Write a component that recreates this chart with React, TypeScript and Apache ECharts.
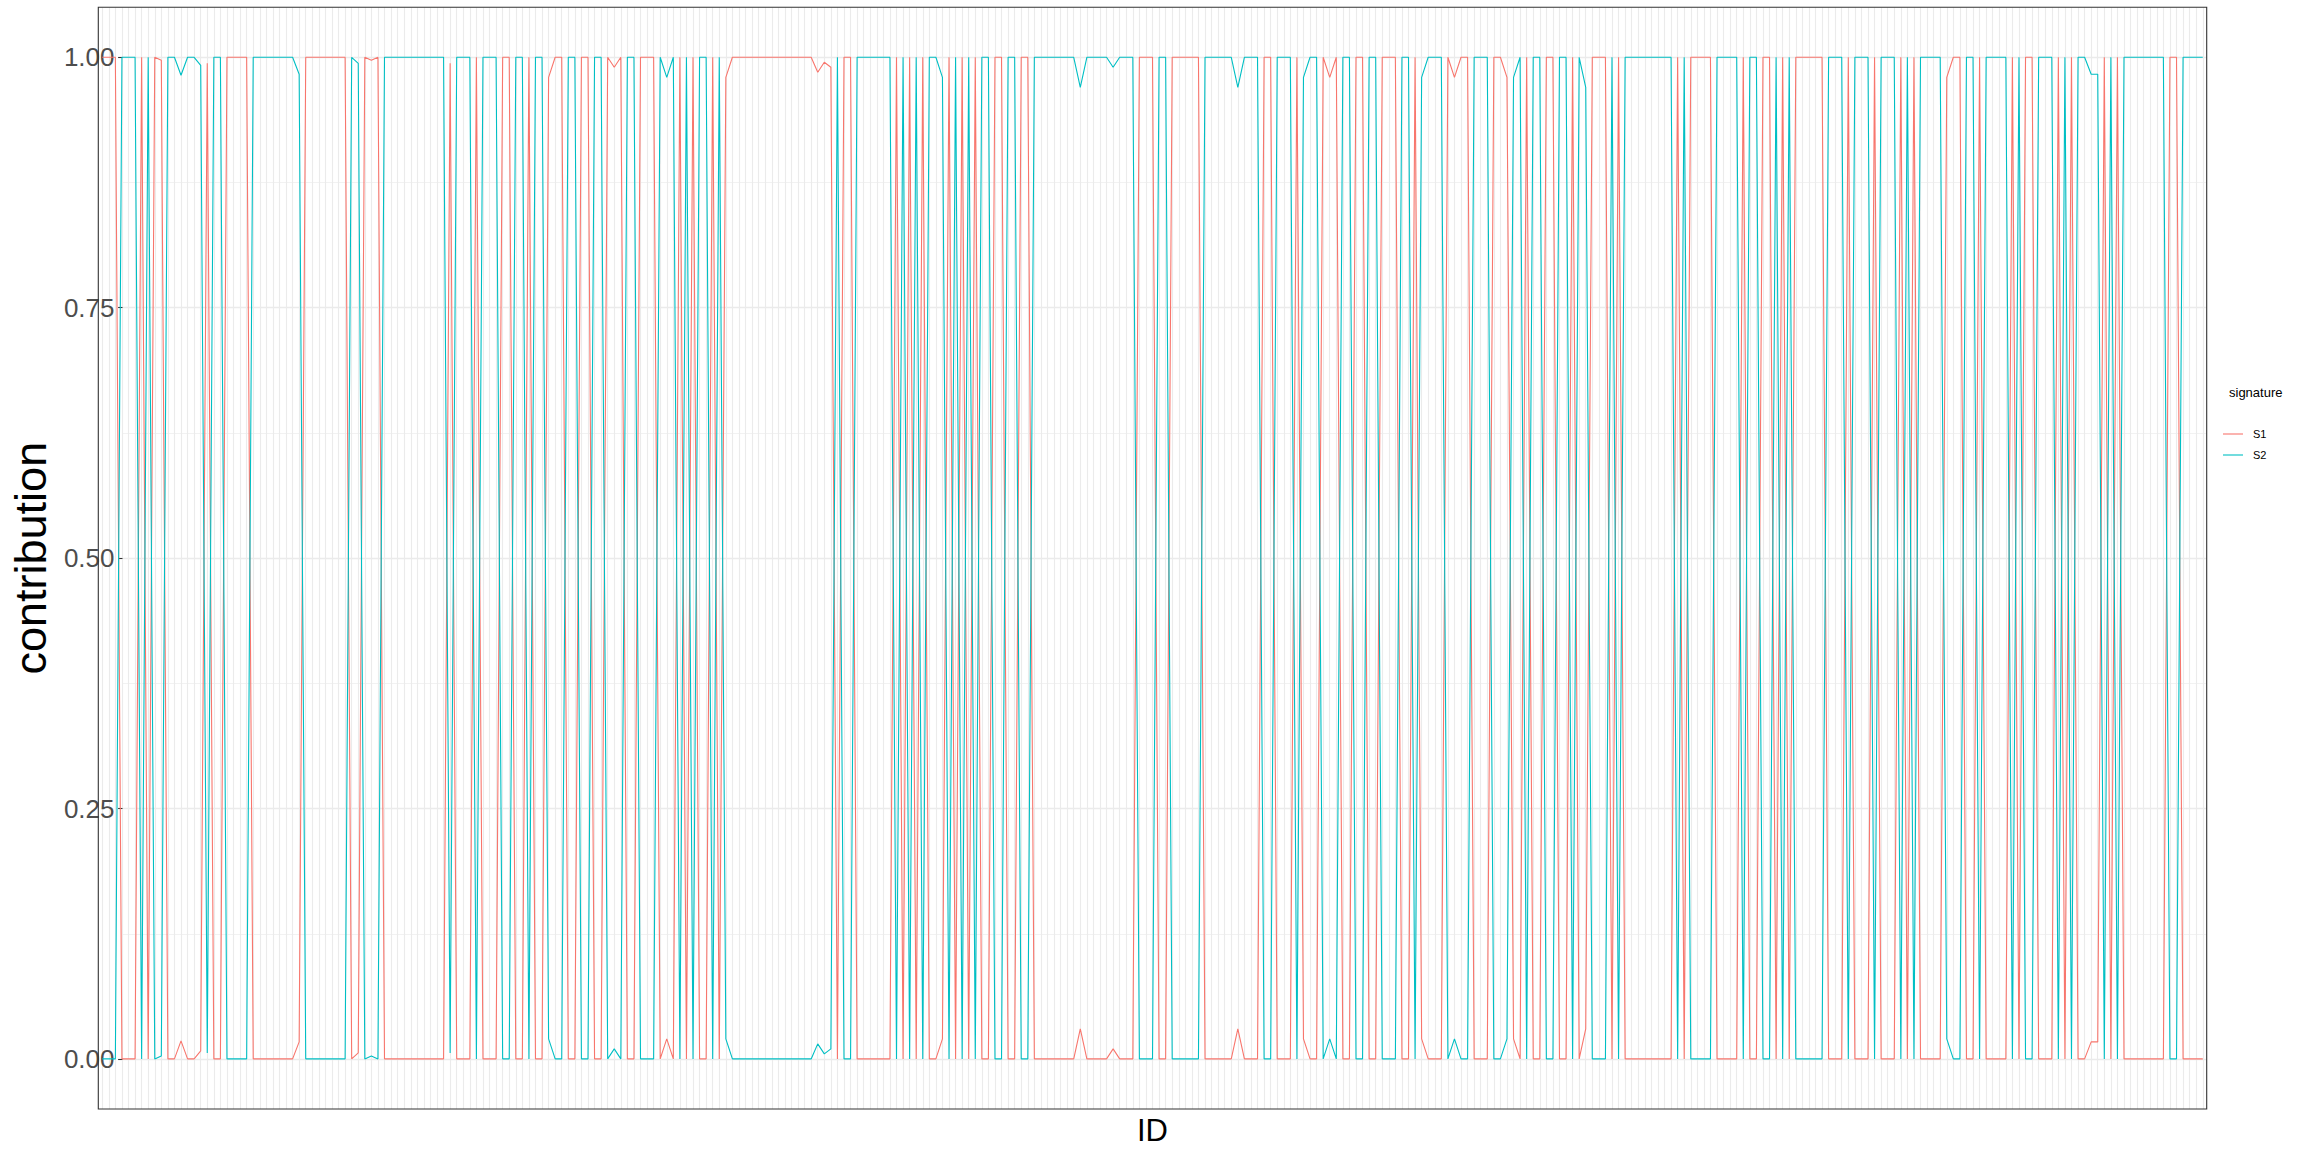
import React, { useEffect, useRef } from "react";
import * as echarts from "echarts";

// ---- data ----
const N_IDS = 321;
const ids: string[] = Array.from({ length: N_IDS }, (_, i) => String(i + 1));

const s1: number[] = [
  1, 1, 1, 0, 0, 0, 1, 0, 1, 0.997,
  0, 0, 0.018, 0, 0, 0.008, 0.994, 0, 0, 1,
  1, 1, 1, 0, 0, 0, 0, 0, 0, 0,
  0.017, 1, 1, 1, 1, 1, 1, 1, 0, 0.006,
  1, 0.997, 1, 0, 0, 0, 0, 0, 0, 0,
  0, 0, 0, 0.994, 0, 0, 0, 1, 0, 0,
  0, 1, 1, 0, 0, 1, 0, 0, 0.98, 1,
  1, 0, 0, 1, 1, 0, 0, 1, 0.99, 1,
  0, 0, 1, 1, 1, 0, 0.02, 0, 1, 0,
  1, 0, 0, 1, 0, 0.98, 1, 1, 1, 1,
  1, 1, 1, 1, 1, 1, 1, 1, 1, 0.985,
  0.995, 0.99, 0, 1, 1, 0, 0, 0, 0, 0,
  0, 1, 0, 1, 0, 1, 0, 0, 0.02, 1,
  0, 1, 0, 1, 0, 0, 1, 1, 0, 0,
  1, 1, 0, 0, 0, 0, 0, 0, 0, 0.03,
  0, 0, 0, 0, 0.01, 0, 0, 0, 1, 1,
  1, 0, 0, 1, 1, 1, 1, 1, 0, 0,
  0, 0, 0, 0.03, 0, 0, 0, 1, 1, 0,
  0, 0, 1, 0.02, 0, 0, 1, 0.98, 1, 0,
  0, 1, 1, 0, 0, 1, 1, 1, 0, 0,
  1, 0.02, 0, 0, 0, 1, 0.98, 1, 1, 0,
  0, 0, 1, 1, 0.98, 0.02, 0, 1, 0, 0,
  1, 1, 0, 0, 1, 0, 0.03, 1, 1, 1,
  0, 1, 0, 0, 0, 0, 0, 0, 0, 0,
  1, 0, 1, 1, 1, 1, 0, 0, 0, 0,
  1, 0, 0, 1, 1, 0, 1, 0, 1, 1,
  1, 1, 1, 0, 0, 0, 1, 0, 0, 0,
  1, 0, 0, 0, 1, 0, 1, 0, 0, 0,
  0, 0.98, 1, 1, 0, 0, 1, 0, 0, 0,
  0, 1, 0, 1, 1, 0, 0, 0, 1, 0,
  1, 0, 0, 0.017, 0.017, 1, 0, 1, 0, 0,
  0, 0, 0, 0, 0, 1, 1, 0, 0, 0,
  0,
];

const s2: number[] = [
  0, 0, 0, 1, 1, 1, 0, 1, 0, 0.003,
  1, 1, 0.982, 1, 1, 0.992, 0.006, 1, 1, 0,
  0, 0, 0, 1, 1, 1, 1, 1, 1, 1,
  0.983, 0, 0, 0, 0, 0, 0, 0, 1, 0.994,
  0, 0.003, 0, 1, 1, 1, 1, 1, 1, 1,
  1, 1, 1, 0.006, 1, 1, 1, 0, 1, 1,
  1, 0, 0, 1, 1, 0, 1, 1, 0.02, 0,
  0, 1, 1, 0, 0, 1, 1, 0, 0.01, 0,
  1, 1, 0, 0, 0, 1, 0.98, 1, 0, 1,
  0, 1, 1, 0, 1, 0.02, 0, 0, 0, 0,
  0, 0, 0, 0, 0, 0, 0, 0, 0, 0.015,
  0.005, 0.01, 1, 0, 0, 1, 1, 1, 1, 1,
  1, 0, 1, 0, 1, 0, 1, 1, 0.98, 0,
  1, 0, 1, 0, 1, 1, 0, 0, 1, 1,
  0, 0, 1, 1, 1, 1, 1, 1, 1, 0.97,
  1, 1, 1, 1, 0.99, 1, 1, 1, 0, 0,
  0, 1, 1, 0, 0, 0, 0, 0, 1, 1,
  1, 1, 1, 0.97, 1, 1, 1, 0, 0, 1,
  1, 1, 0, 0.98, 1, 1, 0, 0.02, 0, 1,
  1, 0, 0, 1, 1, 0, 0, 0, 1, 1,
  0, 0.98, 1, 1, 1, 0, 0.02, 0, 0, 1,
  1, 1, 0, 0, 0.02, 0.98, 1, 0, 1, 1,
  0, 0, 1, 1, 0, 1, 0.97, 0, 0, 0,
  1, 0, 1, 1, 1, 1, 1, 1, 1, 1,
  0, 1, 0, 0, 0, 0, 1, 1, 1, 1,
  0, 1, 1, 0, 0, 1, 0, 1, 0, 0,
  0, 0, 0, 1, 1, 1, 0, 1, 1, 1,
  0, 1, 1, 1, 0, 1, 0, 1, 1, 1,
  1, 0.02, 0, 0, 1, 1, 0, 1, 1, 1,
  1, 0, 1, 0, 0, 1, 1, 1, 0, 1,
  0, 1, 1, 0.983, 0.983, 0, 1, 0, 1, 1,
  1, 1, 1, 1, 1, 0, 0, 1, 1, 1,
  1,
];

const seriesNames = ["S1", "S2"];
const legendTitle = "signature";

const RED = "#F8766D";
const CYAN = "#00BFC4";
const FONT = "'Liberation Sans', Arial, sans-serif";

export default function App() {
  const ref = useRef<HTMLDivElement>(null);
  useEffect(() => {
    if (!ref.current) return;
    const chart = echarts.init(ref.current, undefined, { renderer: "svg" });
    const W = 2304;
    const H = 1152;
    const panel = { x0: 98.3, x1: 2206.7, y0: 7.2, y1: 1109 };
    const step = (panel.x1 - panel.x0) / (N_IDS - 1 + 1.2);
    const catL = panel.x0 + 0.6 * step;
    const catR = panel.x1 - 0.6 * step;
    const yTop1 = 57.3;
    const yBot0 = 1059;

    chart.setOption({
      animation: false,
      backgroundColor: "#ffffff",
      textStyle: { fontFamily: FONT },
      grid: [
        {
          left: panel.x0,
          right: W - panel.x1,
          top: yTop1,
          bottom: H - yBot0,
          containLabel: false,
        },
        {
          left: catL,
          right: W - catR,
          top: panel.y0,
          bottom: H - panel.y1,
          containLabel: false,
        },
      ],
      xAxis: [
        { gridIndex: 0, type: "value", show: false, min: 0, max: 1 },
        {
          gridIndex: 1,
          type: "category",
          data: ids,
          boundaryGap: false,
          name: "ID",
          nameLocation: "middle",
          nameGap: 6,
          nameTextStyle: {
            fontSize: 31,
            color: "#000000",
            fontFamily: FONT,
            verticalAlign: "top",
          },
          axisLine: { show: false },
          axisTick: { show: false },
          axisLabel: { show: false },
          splitLine: {
            show: true,
            interval: 0,
            lineStyle: { color: "#EBEBEB", width: 1.1 },
          },
        },
      ],
      yAxis: [
        {
          gridIndex: 0,
          type: "value",
          min: 0,
          max: 1,
          interval: 0.25,
          name: "contribution",
          nameLocation: "middle",
          nameGap: 53,
          nameRotate: 90,
          nameTextStyle: { fontSize: 45, color: "#000000", fontFamily: FONT },
          axisLine: { show: false },
          axisTick: {
            show: true,
            length: 4.4,
            lineStyle: { color: "#333333", width: 1.1 },
          },
          axisLabel: {
            show: true,
            margin: 8,
            fontSize: 26,
            color: "#4D4D4D",
            fontFamily: FONT,
            formatter: (v: number) => v.toFixed(2),
          },
          splitLine: {
            show: true,
            lineStyle: { color: "#EBEBEB", width: 1.4 },
          },
          minorTick: { show: false, splitNumber: 2 },
          minorSplitLine: {
            show: true,
            lineStyle: { color: "#F2F2F2", width: 1 },
          },
        },
        {
          gridIndex: 1,
          type: "value",
          min: -0.05,
          max: 1.05,
          show: false,
          splitLine: { show: false },
        },
      ],
      series: [
        {
          name: seriesNames[0],
          type: "line",
          xAxisIndex: 1,
          yAxisIndex: 1,
          data: s1,
          showSymbol: false,
          symbol: "none",
          lineStyle: { color: RED, width: 1.1 },
          itemStyle: { color: RED },
          z: 3,
        },
        {
          name: seriesNames[1],
          type: "line",
          xAxisIndex: 1,
          yAxisIndex: 1,
          data: s2,
          showSymbol: false,
          symbol: "none",
          lineStyle: { color: CYAN, width: 1.1 },
          itemStyle: { color: CYAN },
          z: 4,
        },
      ],
      graphic: [
        {
          type: "rect",
          shape: {
            x: panel.x0,
            y: panel.y0,
            width: panel.x1 - panel.x0,
            height: panel.y1 - panel.y0,
          },
          style: { fill: "none", stroke: "#333333", lineWidth: 1.1 },
          z: 10,
        },
        {
          type: "text",
          x: 2229,
          y: 386,
          style: {
            text: legendTitle,
            fontSize: 13,
            fill: "#000000",
            fontFamily: FONT,
          },
        },
        {
          type: "line",
          shape: { x1: 2223, y1: 434, x2: 2243, y2: 434 },
          style: { stroke: RED, lineWidth: 1.1 },
        },
        {
          type: "text",
          x: 2253,
          y: 428,
          style: { text: seriesNames[0], fontSize: 11, fill: "#000000", fontFamily: FONT },
        },
        {
          type: "line",
          shape: { x1: 2223, y1: 455, x2: 2243, y2: 455 },
          style: { stroke: CYAN, lineWidth: 1.1 },
        },
        {
          type: "text",
          x: 2253,
          y: 449,
          style: { text: seriesNames[1], fontSize: 11, fill: "#000000", fontFamily: FONT },
        },
      ],
    });
    return () => chart.dispose();
  }, []);
  return (
    <div
      ref={ref}
      style={{
        position: "fixed",
        left: 0,
        top: 0,
        width: 2304,
        height: 1152,
        background: "#ffffff",
      }}
    />
  );
}
